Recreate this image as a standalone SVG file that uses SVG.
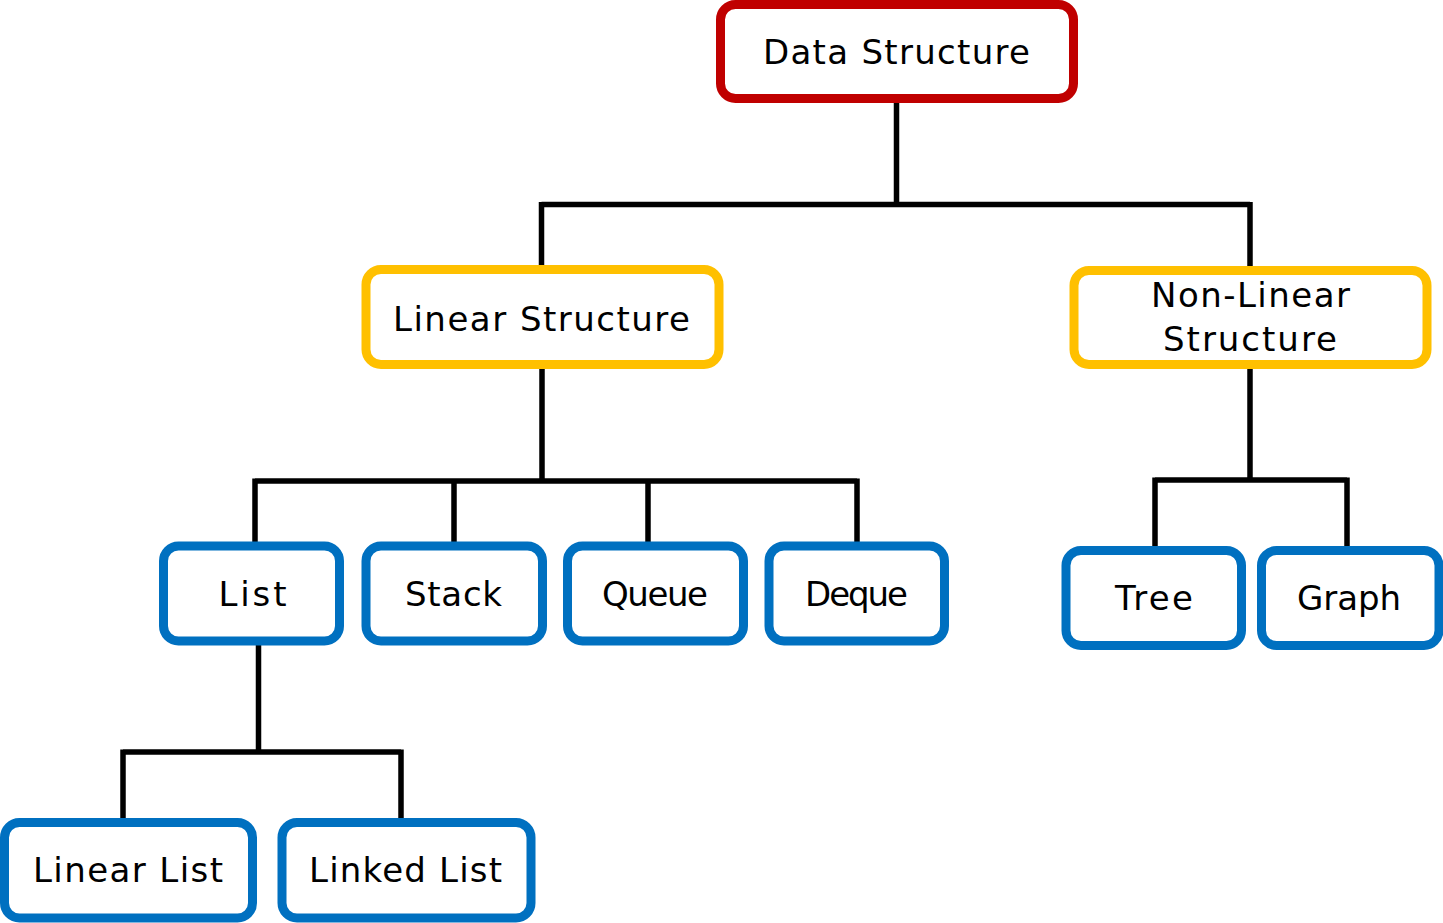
<svg xmlns="http://www.w3.org/2000/svg" width="1443" height="923" viewBox="0 0 1443 923">
<style>
.box{fill:#fff;stroke-width:9;}
.red{stroke:#C00000;}
.yel{stroke:#FFC000;}
.blu{stroke:#0070C0;}
.lbl{font-family:"DejaVu Sans","Noto Sans",sans-serif;font-size:34px;fill:#000;text-anchor:middle;}
#connectors path{fill:none;stroke:#000;stroke-width:5.5;stroke-linejoin:miter;}
</style>
<rect width="1443" height="923" fill="#fff"/>
<g id="connectors">
<path d="M896.5,99 V204.5 M541.5,204.5 H1250 M541.5,202 V270 M1250,202 V270"/>
<path d="M542,364 V481 M255,481 H857 M255,478.5 V546 M454,481 V546 M648,481 V546 M857,478.5 V546"/>
<path d="M1250,364 V480 M1155,480 H1347 M1155,477.5 V550 M1347,477.5 V550"/>
<path d="M258.5,641 V752 M123,752 H401 M123,749.5 V822 M401,749.5 V822"/>
</g>
<g id="n-data-structure">
<rect class="box red" x="720.5" y="4.5" width="353" height="94" rx="15"/>
<text class="lbl" x="896.5" y="64" textLength="267">Data Structure</text>
</g>
<g id="n-linear-structure">
<rect class="box yel" x="366" y="269.5" width="353" height="95" rx="15"/>
<text class="lbl" x="541.5" y="331" textLength="297">Linear Structure</text>
</g>
<g id="n-nonlinear-structure">
<rect class="box yel" x="1074" y="270.5" width="353" height="94" rx="15"/>
<text class="lbl" x="1250.5" y="307" textLength="199">Non-Linear</text>
<text class="lbl" x="1250" y="351" textLength="174">Structure</text>
</g>
<g id="n-list">
<rect class="box blu" x="163.5" y="546" width="176" height="95" rx="15"/>
<text class="lbl" x="252.5" y="606" textLength="68">List</text>
</g>
<g id="n-stack">
<rect class="box blu" x="366" y="546" width="176.5" height="95" rx="15"/>
<text class="lbl" x="453.5" y="606" textLength="97">Stack</text>
</g>
<g id="n-queue">
<rect class="box blu" x="567.5" y="546" width="176" height="95" rx="15"/>
<text class="lbl" x="655" y="606" textLength="106">Queue</text>
</g>
<g id="n-deque">
<rect class="box blu" x="769" y="546" width="175.5" height="95" rx="15"/>
<text class="lbl" x="856.5" y="606" textLength="103">Deque</text>
</g>
<g id="n-tree">
<rect class="box blu" x="1066" y="550.5" width="175.5" height="95" rx="15"/>
<text class="lbl" x="1154" y="610" textLength="78">Tree</text>
</g>
<g id="n-graph">
<rect class="box blu" x="1261.5" y="550.5" width="177.5" height="95" rx="15"/>
<text class="lbl" x="1349" y="610" textLength="104">Graph</text>
</g>
<g id="n-linear-list">
<rect class="box blu" x="4.5" y="822.5" width="248" height="95.5" rx="15"/>
<text class="lbl" x="128" y="882" textLength="190">Linear List</text>
</g>
<g id="n-linked-list">
<rect class="box blu" x="282" y="822.5" width="249" height="95.5" rx="15"/>
<text class="lbl" x="405.5" y="882" textLength="193">Linked List</text>
</g>
</svg>
